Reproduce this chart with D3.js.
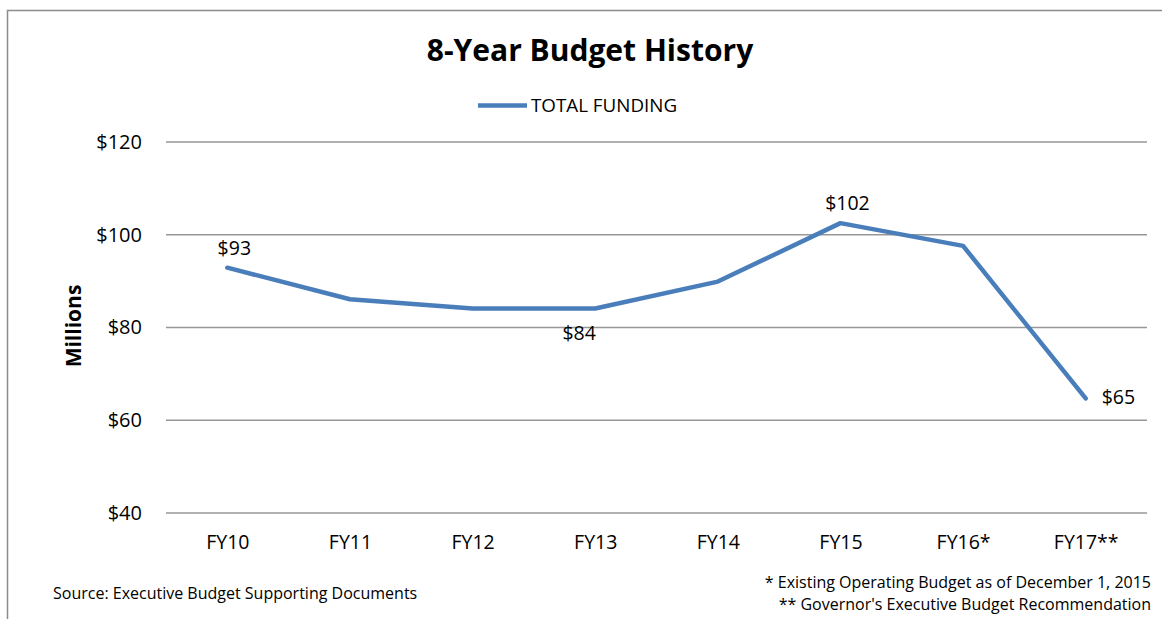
<!DOCTYPE html>
<html><head><meta charset="utf-8">
<script src="https://cdn.jsdelivr.net/npm/d3@7"></script>
<style>body{margin:0;background:#fff}svg{display:block}text{font-family:"Open Sans","Noto Sans",sans-serif;fill:#000}</style>
</head><body>
<script>
const categories = ["FY10","FY11","FY12","FY13","FY14","FY15","FY16*","FY17**"];
const totalFunding = [92.9, 86.1, 84.1, 84.1, 89.9, 102.5, 97.6, 64.7];
const yTicks = [40, 60, 80, 100, 120];
const labelPos = ["above", null, null, "below", null, "above", null, "right"];
const labelText = ["$93", null, null, "$84", null, "$102", null, "$65"];

(function(){
const W = 1162, H = 619;
const svg = d3.select("body").append("svg").attr("width", W).attr("height", H);
svg.append("rect").attr("x",7.5).attr("y",10.5).attr("width",W+10).attr("height",H+10)
  .attr("fill","#fff").attr("stroke","#8c8c8c").attr("stroke-width",1.5);

const pLeft = 166, pRight = 1147, pTop = 142, pBottom = 513;
const x = d3.scalePoint().domain(categories).range([pLeft, pRight]).padding(0.5);
const y = d3.scaleLinear().domain([40, 120]).range([pBottom, pTop]);

svg.append("g").selectAll("line").data(yTicks).join("line")
  .attr("x1", pLeft).attr("x2", pRight).attr("y1", d => y(d)).attr("y2", d => y(d))
  .attr("stroke", "#979797").attr("stroke-width", 1.5);

const yAxis = d3.axisLeft(y).tickValues(yTicks).tickFormat(d => "$" + d).tickSize(0).tickPadding(24);
const gy = svg.append("g").attr("transform", `translate(${pLeft},0)`).call(yAxis);
gy.select(".domain").remove();
gy.selectAll("text").attr("font-size", 20).attr("font-family", '"Open Sans",sans-serif');

const xAxis = d3.axisBottom(x).tickSize(0).tickPadding(22);
const gx = svg.append("g").attr("transform", `translate(0,${pBottom})`).call(xAxis);
gx.select(".domain").remove();
gx.selectAll("text").attr("font-size", 19.5).attr("font-family", '"Open Sans",sans-serif');

const line = d3.line().x((d,i) => x(categories[i])).y(d => y(d));
svg.append("path").datum(totalFunding).attr("d", line)
  .attr("fill","none").attr("stroke","#4a7ebb").attr("stroke-width",4.5)
  .attr("stroke-linejoin","round").attr("stroke-linecap","round");

const nudge = {above: [7, -13], below: [-16, 32], right: [16, 6]};
totalFunding.forEach((v,i) => {
  if (!labelText[i]) return;
  const pos = labelPos[i];
  const tx = x(categories[i]) + nudge[pos][0], ty = y(v) + nudge[pos][1];
  svg.append("text").attr("x", tx).attr("y", ty).attr("text-anchor", pos === "right" ? "start" : "middle")
    .attr("font-size", 19.5).text(labelText[i]);
});

svg.append("text").attr("x", 590).attr("y", 61).attr("text-anchor","middle")
  .attr("font-size", 30).attr("font-weight", "bold").text("8-Year Budget History");

svg.append("line").attr("x1", 478).attr("x2", 527).attr("y1", 105.5).attr("y2", 105.5)
  .attr("stroke","#4a7ebb").attr("stroke-width",4.5);
svg.append("text").attr("x", 531).attr("y", 112).attr("font-size", 18.8).text("TOTAL FUNDING");

svg.append("text").attr("transform","translate(81,326) rotate(-90)").attr("text-anchor","middle")
  .attr("font-size", 21).attr("font-weight","bold").text("Millions");

svg.append("text").attr("x", 53).attr("y", 599).attr("font-size", 16).text("Source: Executive Budget Supporting Documents");
svg.append("text").attr("x", 1151).attr("y", 588).attr("text-anchor","end").attr("font-size", 16).text("* Existing Operating Budget as of December 1, 2015");
svg.append("text").attr("x", 1151).attr("y", 610).attr("text-anchor","end").attr("font-size", 16).text("** Governor's Executive Budget Recommendation");
})();
</script>
</body></html>
